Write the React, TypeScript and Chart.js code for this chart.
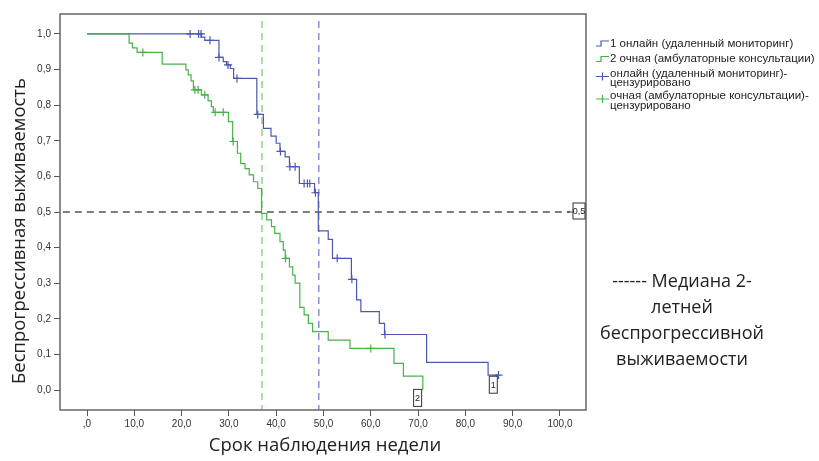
import React, { useEffect, useRef } from 'react';
import { Chart, registerables } from 'chart.js';
Chart.register(...registerables);

// ---------- data ----------
const onlineTimes = [24.2, 24.9, 27.9, 28.8, 29.5, 30.3, 31.0, 35.9, 37.3, 38.9, 40.0, 40.8, 41.9, 42.8, 44.9, 48.1, 48.9, 51.0, 51.9, 55.9, 57.0, 57.9, 61.8, 62.9, 71.8, 84.8];
const onlineSurv = [0.991, 0.982, 0.934, 0.922, 0.913, 0.903, 0.875, 0.774, 0.735, 0.713, 0.693, 0.670, 0.655, 0.627, 0.580, 0.554, 0.447, 0.423, 0.370, 0.311, 0.253, 0.220, 0.187, 0.156, 0.078, 0.042];
const onlineCensorTimes = [21.8, 23.6, 24.1, 26.0, 27.9, 29.8, 31.7, 36.1, 40.9, 42.9, 44.0, 45.9, 46.6, 47.1, 48.3, 52.9, 56.0, 63.0, 87.0];

const officeTimes = [8.9, 9.6, 10.6, 15.9, 20.9, 21.4, 22.0, 22.5, 24.2, 25.6, 26.3, 26.7, 29.9, 30.8, 31.8, 32.5, 33.4, 34.3, 35.2, 36.1, 36.9, 38.0, 39.0, 39.7, 40.8, 41.5, 41.9, 42.8, 43.5, 44.0, 45.0, 45.9, 46.8, 47.7, 51.0, 55.6, 64.9, 66.9, 71.0];
const officeSurv = [0.974, 0.961, 0.948, 0.915, 0.899, 0.885, 0.868, 0.843, 0.829, 0.812, 0.796, 0.780, 0.754, 0.698, 0.665, 0.636, 0.622, 0.604, 0.585, 0.566, 0.496, 0.478, 0.459, 0.440, 0.417, 0.393, 0.370, 0.346, 0.323, 0.300, 0.232, 0.211, 0.187, 0.164, 0.140, 0.117, 0.075, 0.039, 0.0];
const officeCensorTimes = [11.8, 22.8, 23.5, 24.9, 27.1, 28.8, 30.9, 42.0, 60.0];

const medianOnline = 49;
const medianOffice = 37;
const medianLevel = 0.5;

const xTickValues = [0, 10, 20, 30, 40, 50, 60, 70, 80, 90, 100];
const xTickLabels = [',0', '10,0', '20,0', '30,0', '40,0', '50,0', '60,0', '70,0', '80,0', '90,0', '100,0'];
const yTickValues = [0, 0.1, 0.2, 0.3, 0.4, 0.5, 0.6, 0.7, 0.8, 0.9, 1.0];
const yTickLabels = ['0,0', '0,1', '0,2', '0,3', '0,4', '0,5', '0,6', '0,7', '0,8', '0,9', '1,0'];

const seriesLabels = ['1 онлайн (удаленный мониторинг)', '2 очная (амбулаторные консультации)'];
const censorLabels = [
  ['онлайн (удаленный мониторинг)-', 'цензурировано'],
  ['очная (амбулаторные консультации)-', 'цензурировано'],
];
const curveTags = ['1', '2'];
const medianTag = '0,5';
const xTitle = 'Срок наблюдения недели';
const yTitle = 'Беспрогрессивная выживаемость';
const noteLines = ['------ Медиана 2-', 'летней', 'беспрогрессивной', 'выживаемости'];

// ---------- styling ----------
const BLUE = '#4b58b0';
const GREEN = '#47b247';
const X_MIN = -5.71;
const X_MAX = 105.5;
const Y_MIN = -0.056;
const Y_MAX = 1.056;
const SMALL_FONT = '"Liberation Sans Narrow", "Liberation Sans", Arial, sans-serif';
const LEGEND_FONT = '"Liberation Sans", Arial, sans-serif';
const BIG_FONT = '"Open Sans", "Noto Sans", sans-serif';

function survAt(times: number[], surv: number[], t: number) {
  let s = 1;
  for (let i = 0; i < times.length; i++) if (times[i] <= t) s = surv[i];
  return s;
}

function curve(times: number[], surv: number[], tail?: number) {
  const pts = [{ x: 0, y: 1 }, ...times.map((t, i) => ({ x: t, y: surv[i] }))];
  if (tail !== undefined && tail > times[times.length - 1]) pts.push({ x: tail, y: surv[surv.length - 1] });
  return pts;
}

const overlay = {
  id: 'overlay',
  afterDraw(chart: any) {
    const { ctx, chartArea: a, scales } = chart;
    const xs = scales.x, ys = scales.y;
    ctx.save();
    // frame
    ctx.strokeStyle = '#666';
    ctx.lineWidth = 1.5;
    ctx.strokeRect(a.left, a.top, a.right - a.left, a.bottom - a.top);

    // axis titles
    ctx.fillStyle = '#222';
    ctx.font = `18.5px ${BIG_FONT}`;
    ctx.textAlign = 'center';
    ctx.textBaseline = 'middle';
    ctx.fillText(xTitle, (a.left + a.right) / 2 + 2, 446);
    ctx.save();
    ctx.translate(20, 231);
    ctx.rotate(-Math.PI / 2);
    ctx.fillText(yTitle, 0, 0);
    ctx.restore();

    // tag boxes
    const box = (cx: number, cy: number, w: number, h: number, txt: string) => {
      ctx.fillStyle = '#fff';
      ctx.fillRect(cx - w / 2, cy - h / 2, w, h);
      ctx.strokeStyle = '#333';
      ctx.lineWidth = 1;
      ctx.strokeRect(cx - w / 2, cy - h / 2, w, h);
      ctx.fillStyle = '#222';
      ctx.font = `9px ${SMALL_FONT}`;
      ctx.textAlign = 'center';
      ctx.textBaseline = 'middle';
      ctx.fillText(txt, cx, cy + 0.5);
    };
    const lastOn = onlineTimes[onlineTimes.length - 1];
    const lastOff = officeTimes[officeTimes.length - 1];
    box(xs.getPixelForValue(lastOn + 1.1), ys.getPixelForValue(0.015), 8, 17, curveTags[0]);
    box(xs.getPixelForValue(lastOff - 1.1), ys.getPixelForValue(-0.022), 8, 17, curveTags[1]);
    // 0,5 tag
    const my = ys.getPixelForValue(medianLevel);
    ctx.strokeStyle = '#555';
    ctx.lineWidth = 1.2;
    ctx.beginPath();
    ctx.moveTo(a.right - 19, my);
    ctx.lineTo(a.right - 13, my);
    ctx.stroke();
    box(a.right - 7, my - 1, 12, 16, medianTag);

    // legend
    const lx = a.right + 10;
    const tx = lx + 14;
    ctx.font = `11.5px ${LEGEND_FONT}`;
    ctx.textAlign = 'left';
    ctx.textBaseline = 'middle';
    const rows = [43.5, 59];
    [BLUE, GREEN].forEach((c, i) => {
      const yc = rows[i];
      ctx.strokeStyle = c;
      ctx.lineWidth = 1.2;
      ctx.beginPath();
      ctx.moveTo(lx, yc + 2.5);
      ctx.lineTo(lx + 5, yc + 2.5);
      ctx.lineTo(lx + 5, yc - 2.5);
      ctx.lineTo(lx + 13, yc - 2.5);
      ctx.stroke();
      ctx.fillStyle = '#222';
      ctx.fillText(seriesLabels[i], tx, yc);
    });
    const crows = [73.5, 96];
    [BLUE, GREEN].forEach((c, i) => {
      const yc = crows[i];
      ctx.strokeStyle = c;
      ctx.lineWidth = 1.2;
      ctx.beginPath();
      ctx.moveTo(lx, yc + 3);
      ctx.lineTo(lx + 13, yc + 3);
      ctx.moveTo(lx + 6.5, yc - 1);
      ctx.lineTo(lx + 6.5, yc + 7);
      ctx.stroke();
      ctx.fillStyle = '#222';
      ctx.fillText(censorLabels[i][0], tx, yc);
      ctx.fillText(censorLabels[i][1], tx, yc + 9.5);
    });

    // note
    ctx.font = `18px ${BIG_FONT}`;
    ctx.textAlign = 'center';
    ctx.fillStyle = '#222';
    noteLines.forEach((l, i) => ctx.fillText(l, 682, 282 + i * 26));
    ctx.restore();
  },
};

export default function App() {
  const ref = useRef<HTMLCanvasElement | null>(null);
  useEffect(() => {
    if (!ref.current) return;
    const onlineCurve = curve(onlineTimes, onlineSurv, onlineCensorTimes[onlineCensorTimes.length - 1]);
    const officeCurve = curve(officeTimes, officeSurv);
    const onlineCens = onlineCensorTimes.map((t) => ({ x: t, y: survAt(onlineTimes, onlineSurv, t) }));
    const officeCens = officeCensorTimes.map((t) => ({ x: t, y: survAt(officeTimes, officeSurv, t) }));
    const vTop = Y_MAX - 0.02;
    const chart = new Chart(ref.current, {
      type: 'line',
      data: {
        datasets: [
          { data: [{ x: X_MIN + 0.6, y: medianLevel }, { x: X_MAX - 3.4, y: medianLevel }], borderColor: '#555', borderDash: [7, 5], borderWidth: 1.5, pointRadius: 0, order: 10 },
          { data: [{ x: medianOffice, y: vTop }, { x: medianOffice, y: Y_MIN }], borderColor: '#8fd18f', borderDash: [7, 5], borderWidth: 1.5, pointRadius: 0, order: 9 },
          { data: [{ x: medianOnline, y: vTop }, { x: medianOnline, y: Y_MIN }], borderColor: '#8a90cf', borderDash: [7, 5], borderWidth: 1.5, pointRadius: 0, order: 8 },
          { data: onlineCurve, borderColor: BLUE, borderWidth: 1.2, pointRadius: 0, stepped: 'before', order: 5 },
          { data: officeCurve, borderColor: GREEN, borderWidth: 1.2, pointRadius: 0, stepped: 'before', order: 4 },
          { data: onlineCens, showLine: false, pointStyle: 'cross', pointRadius: 4, borderColor: BLUE, borderWidth: 1.2, order: 3 },
          { data: officeCens, showLine: false, pointStyle: 'cross', pointRadius: 4, borderColor: GREEN, borderWidth: 1.2, order: 2 },
        ],
      } as any,
      options: {
        responsive: false,
        animation: false,
        devicePixelRatio: 1,
        layout: { padding: { left: 0, top: 14, right: 233, bottom: 0 } },
        plugins: { legend: { display: false }, tooltip: { enabled: false } },
        scales: {
          x: {
            type: 'linear',
            min: X_MIN,
            max: X_MAX,
            afterBuildTicks: (s: any) => { s.ticks = xTickValues.map((value) => ({ value })); },
            afterFit: (s: any) => { s.height = 51; },
            ticks: { callback: (_v: any, i: number) => xTickLabels[i], font: { size: 10, family: SMALL_FONT }, color: '#333', padding: 2, maxRotation: 0, autoSkip: false },
            grid: { drawOnChartArea: false, drawTicks: true, tickLength: 6, color: '#555' },
            border: { display: false },
          },
          y: {
            type: 'linear',
            min: Y_MIN,
            max: Y_MAX,
            afterBuildTicks: (s: any) => { s.ticks = yTickValues.map((value) => ({ value })); },
            afterFit: (s: any) => { s.width = 60; },
            ticks: { callback: (_v: any, i: number) => yTickLabels[i], font: { size: 10, family: SMALL_FONT }, color: '#333', padding: 3, autoSkip: false },
            grid: { drawOnChartArea: false, drawTicks: true, tickLength: 6, color: '#555' },
            border: { display: false },
          },
        },
      } as any,
      plugins: [overlay],
    });
    return () => chart.destroy();
  }, []);
  return (
    <div style={{ position: 'absolute', left: 0, top: 0, width: 819, height: 461, background: '#fff' }}>
      <canvas ref={ref} width={819} height={461} style={{ display: 'block', width: 819, height: 461 }} />
    </div>
  );
}
